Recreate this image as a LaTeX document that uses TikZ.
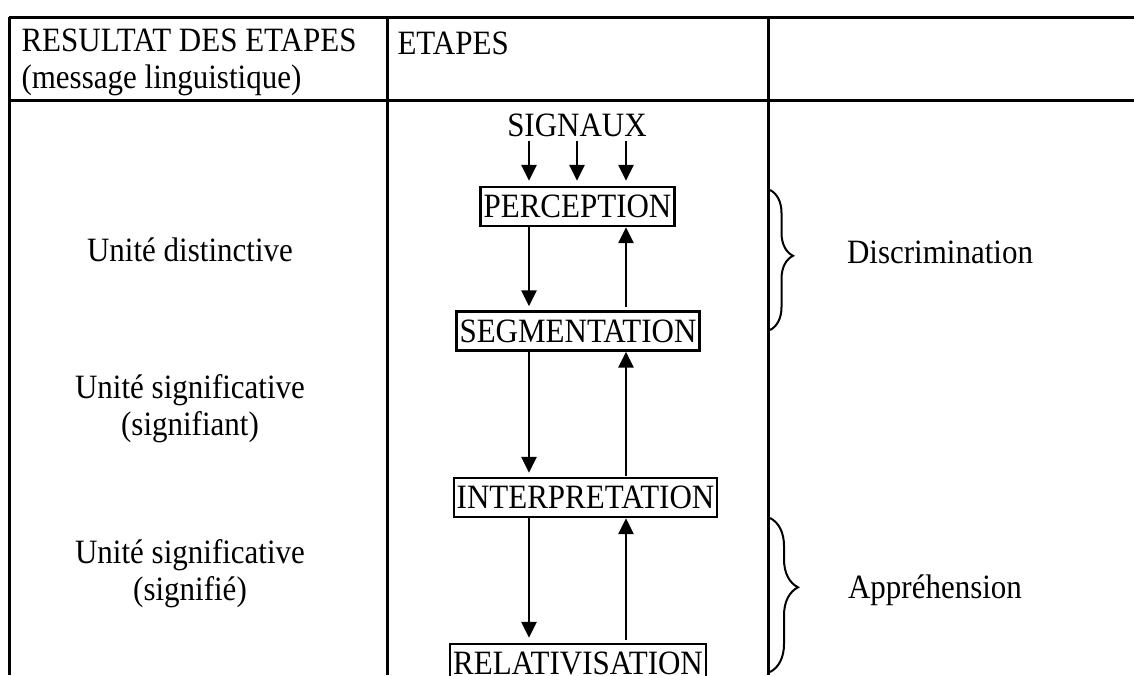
\documentclass[tikz,border=0pt]{standalone}
\usepackage{fontspec}
\setmainfont{Liberation Serif}
\usetikzlibrary{positioning,arrows.meta,decorations.pathreplacing}

\newcommand{\haut}[1]{\scalebox{1}[1.1]{#1}}
\tikzset{
  etape/.style={draw, line width=2.4pt, inner xsep=3pt, inner ysep=0pt, minimum height=39pt},
  fleche/.style={line width=2.8pt, -{Triangle[length=16pt,width=15pt]}},
  accolade/.style={line width=2pt, decorate, decoration={brace, amplitude=#1}},
  grille/.style={line width=3pt}
}

\begin{document}
\begin{tikzpicture}[x=1pt, y=-1pt, font=\fontsize{31}{37}\selectfont]
    \useasboundingbox (0,0) rectangle (1134,675);
    % grille du tableau
    \draw [grille] (9,17) -- (1134,17);
    \draw [grille] (9,100) -- (1134,100);
    \draw [grille] (9,17) -- (9,675);
    \draw [grille] (387,17) -- (387,675);
    \draw [grille] (768,17) -- (768,675);
    % en-tetes
    \node[anchor=west, align=left] (hres) at (18,62) {\haut{RESULTAT DES ETAPES}\\\haut{(message linguistique)}};
    \node[anchor=west] (hetp) at (394,43) {\haut{ETAPES}};
    % etapes
    \node (sig) at (577,125) {\haut{SIGNAUX}};
    \node[etape] (perc) at (577.5,206.5) {\haut{PERCEPTION}};
    \node[etape] (segm) at (578,331) {\haut{SEGMENTATION}};
    \node[etape] (interp) at (585.5,497.5) {\haut{INTERPRETATION}};
    \node[etape] (relat) at (578,663.5) {\haut{RELATIVISATION}};
    \coordinate (xl) at (529,0);
    \coordinate (xm) at (577,0);
    \coordinate (xr) at (626,0);
    \foreach \c in {xl,xm,xr}
      \draw [fleche, shorten <=1pt, shorten >=5pt] (sig.south -| \c) -- (perc.north -| \c);
    \draw [fleche, shorten >=4pt] (perc.south -| xl) -- (segm.north -| xl);
    \draw [fleche, shorten <=3pt] (segm.north -| xr) -- (perc.south -| xr);
    \draw [fleche, shorten >=4pt] (segm.south -| xl) -- (interp.north -| xl);
    \draw [fleche, shorten <=1pt] (interp.north -| xr) -- (segm.south -| xr);
    \draw [fleche, shorten >=5pt] (interp.south -| xl) -- (relat.north -| xl);
    \draw [fleche, shorten <=3pt] (relat.north -| xr) -- (interp.south -| xr);
    % resultats
    \node (dist) at (190,250) {\haut{Unité distinctive}};
    \node[align=center] (sgnt) at (190,409) {\haut{Unité significative}\\\haut{(signifiant)}};
    \node[align=center] (sgne) at (190,573.5) {\haut{Unité significative}\\\haut{(signifié)}};
    % accolades
    \coordinate (b1h) at (770,190);
    \coordinate (b1b) at (770,330);
    \coordinate (b2h) at (770,518);
    \coordinate (b2b) at (770,672);
    \draw [accolade=23pt, decoration={aspect=0.47}] (b1h) -- (b1b);
    \draw [accolade=28pt, decoration={aspect=0.45}] (b2h) -- (b2b);
    \node (discr) at (940,252) {\haut{Discrimination}};
    \node (appr) at (935,590) {\haut{Appréhension}};
\end{tikzpicture}
\end{document}
